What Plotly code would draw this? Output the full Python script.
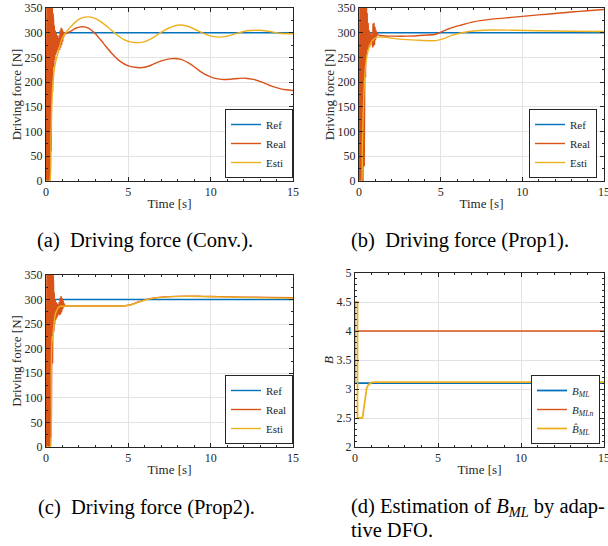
import plotly.graph_objects as go

# ---------------- data ----------------
ref_t = [0, 15]
ref_v = [300, 300]

# (a) Conv.
a_osc_t = [0, .02, .04, .06, .08, .10, .12, .14, .16, .18, .20, .22, .24, .26, .28, .30, .32, .34, .36, .38, .40,
           .42, .44, .46, .48, .50, .53, .56, .59, .62, .65, .68, .71, .74, .77, .80, .83, .86, .89, .92, .95, .98,
           1.01, 1.04, 1.07, 1.10, 1.15]
a_osc_v = [0, 280, 10, 370, 0, 370, 0, 370, 0, 370, 0, 370, 0, 370, 20, 370, 60, 370, 120, 360, 180,
           340, 210, 325, 230, 315, 245, 305, 255, 300, 260, 295, 265, 290, 270, 295, 265, 305, 270, 310, 275, 308,
           282, 303, 290, 300, 297]
a_real_t = [1.15, 1.5, 1.8, 2.2, 2.6, 3.0, 3.5, 4.0, 4.5, 5.0, 5.5, 6.0, 6.5, 7.0, 7.6, 8.2, 8.7, 9.2, 9.7,
            10.2, 10.7, 11.2, 11.7, 12.1, 12.6, 13.2, 13.7, 14.2, 14.6, 15.0]
a_real_v = [297, 303, 309, 312, 309, 298, 278, 258, 242, 233, 229.5, 230, 236, 243, 247.5, 246, 238, 226, 215,
            208, 205.5, 206, 207.5, 208, 205.5, 199, 192, 187, 184.5, 183]
a_esti_t = [0, 0.22, 0.3, 0.35, 0.4, 0.5, 0.6, 0.7, 0.8, 0.9, 1.0, 1.2, 1.5, 1.8, 2.1, 2.5, 2.9, 3.3, 3.8, 4.3,
            4.8, 5.2, 5.6, 6.0, 6.5, 7.0, 7.5, 8.1, 8.6, 9.1, 9.6, 10.1, 10.5, 11.0, 11.6, 12.2, 12.9, 13.5,
            14.2, 15.0]
a_esti_v = [0, 0, 90, 150, 190, 225, 243, 256, 268, 281, 290, 300, 312, 322, 329, 332, 330, 323, 310, 296,
            285, 281, 280, 282, 290, 301, 310, 315.5, 313, 306, 298, 292.5, 291, 293, 299, 304, 305, 303,
            299, 298]

# (b) Prop1
b_osc_t = [0, .02, .04, .06, .08, .10, .12, .14, .16, .18, .20, .22, .24, .26, .28, .30, .32, .34, .36, .38, .40,
           .42, .44, .46, .48, .50, .53, .56, .59, .62, .65, .68, .71, .74, .77, .80, .83, .86, .89, .92, .95, .98,
           1.01, 1.04, 1.07, 1.10, 1.15, 1.2]
b_osc_v = [0, 300, 0, 370, 0, 370, 0, 370, 0, 370, 0, 370, 0, 370, 0, 370, 30, 370, 150, 370, 210,
           365, 240, 355, 255, 340, 265, 320, 268, 305, 270, 300, 275, 296, 280, 300, 270, 318, 272, 320, 275, 312,
           285, 305, 292, 300, 296, 295]
b_real_t = [1.2, 1.6, 2.0, 3.0, 4.0, 4.7, 5.0, 5.5, 6.2, 7.0, 8.0, 9.0, 10.0, 11.0, 12.0, 13.0, 14.0, 15.0]
b_real_v = [295, 293.5, 293, 293, 295, 297, 301, 308, 315, 322, 327, 330, 333, 336, 339, 342, 344.5, 347]
b_esti_t = [0, 0.15, 0.2, 0.25, 0.3, 0.35, 0.4, 0.47, 0.55, 0.65, 0.75, 0.88, 1.0, 1.2, 1.5, 2.0, 2.5, 3.5,
            4.7, 5.2, 5.7, 6.3, 7.2, 8.2, 9.5, 11.0, 13.0, 15.0]
b_esti_v = [0, 0, 60, 130, 180, 210, 232, 250, 263, 274, 281, 286, 289, 291, 291, 289, 287, 285,
            284, 288, 295, 300, 304, 305.5, 305, 304, 303, 302.5]

# (c) Prop2
c_osc_t = [0, .02, .04, .06, .08, .10, .12, .14, .16, .18, .20, .22, .24, .26, .28, .30, .32, .34, .36, .38, .40,
           .42, .44, .46, .48, .50, .53, .56, .59, .62, .65, .68, .71, .74, .77, .80, .83, .86, .89, .92, .95, .98,
           1.01, 1.04, 1.07, 1.10, 1.15, 1.2]
c_osc_v = [0, 280, 0, 370, 0, 370, 0, 370, 0, 370, 0, 370, 0, 370, 0, 370, 20, 370, 90, 370, 170,
           360, 210, 330, 235, 315, 250, 300, 258, 295, 262, 292, 266, 290, 270, 295, 268, 304, 270, 307, 274, 303,
           280, 298, 284, 292, 287, 287]
c_real_t = [1.2, 2.0, 3.0, 4.0, 4.8, 5.2, 5.6, 6.0, 6.5, 7.0, 7.8, 8.5, 9.5, 10.5, 12.0, 13.5, 15.0]
c_real_v = [287, 287, 287, 287, 287.5, 290, 295, 299.5, 303, 305, 306.5, 307, 306.5, 306, 305, 304.5, 304]
c_esti_t = [0, 0.2, 0.27, 0.32, 0.36, 0.4, 0.44, 0.5, 0.55, 0.65, 0.75, 0.9, 1.2, 2.0, 3.0, 4.0, 4.8, 5.2,
            5.6, 6.0, 6.5, 7.0, 7.8, 8.5, 9.5, 10.5, 12.0, 13.5, 15.0]
c_esti_v = [0, 0, 0, 150, 225, 215, 235, 255, 268, 278, 284, 286.5, 287, 287, 287, 287, 287.5, 289.5,
            294.5, 299, 302.5, 304.5, 306, 306.5, 306, 305.5, 304.5, 303.5, 303]

# (d) B_ML estimation
bml_t = [0, 15]
bml_v = [3.1, 3.1]
bmln_t = [0, 15]
bmln_v = [4.0, 4.0]
bhat_t = [0, 0, 0.15, 0.15, 0.45, 0.5, 0.55, 0.6, 0.65, 0.7, 0.8, 0.9, 1.0, 1.2, 15]
bhat_v = [3.1, 4.5, 4.5, 2.5, 2.5, 2.6, 2.75, 2.87, 2.95, 3.01, 3.07, 3.10, 3.115, 3.12, 3.12]

# ---------------- style ----------------
BLUE = '#0072BD'
RED = '#D95319'
YEL = '#EDB120'
AXC = '#262626'
GRID = '#e3e3e3'
SERIF = 'Liberation Serif'
LW = 1.4

W, H = 608, 546


def px(x):
    return x / W


def py(y):
    return 1 - y / H


fig = go.Figure()

panels = [
    ('x', 'y', 'legend', a_osc_t, a_osc_v, a_real_t, a_real_v, a_esti_t, a_esti_v),
    ('x2', 'y2', 'legend2', b_osc_t, b_osc_v, b_real_t, b_real_v, b_esti_t, b_esti_v),
    ('x3', 'y3', 'legend3', c_osc_t, c_osc_v, c_real_t, c_real_v, c_esti_t, c_esti_v),
]
for xa, ya, lg, ot, ov, rt, rv, et, ev in panels:
    fig.add_trace(go.Scatter(x=ref_t, y=ref_v, mode='lines', name='Ref', line=dict(color=BLUE, width=LW),
                             xaxis=xa, yaxis=ya, legend=lg))
    fig.add_trace(go.Scatter(x=ot, y=ov, mode='lines', showlegend=False, line=dict(color=RED, width=LW),
                             xaxis=xa, yaxis=ya, legend=lg))
    fig.add_trace(go.Scatter(x=rt, y=rv, mode='lines', name='Real',
                             line=dict(color=RED, width=LW, shape='spline', smoothing=0.8),
                             xaxis=xa, yaxis=ya, legend=lg))
    fig.add_trace(go.Scatter(x=et, y=ev, mode='lines', name='Esti',
                             line=dict(color=YEL, width=LW, shape='spline', smoothing=0.6),
                             xaxis=xa, yaxis=ya, legend=lg))

fig.add_trace(go.Scatter(x=bml_t, y=bml_v, mode='lines', name='<i>B</i><sub><i>ML</i></sub>',
                         line=dict(color=BLUE, width=1.8), xaxis='x4', yaxis='y4', legend='legend4'))
fig.add_trace(go.Scatter(x=bmln_t, y=bmln_v, mode='lines', name='<i>B</i><sub><i>MLn</i></sub>',
                         line=dict(color=RED, width=LW), xaxis='x4', yaxis='y4', legend='legend4'))
fig.add_trace(go.Scatter(x=bhat_t, y=bhat_v, mode='lines', name='<i>B\u0302</i><sub><i>ML</i></sub>',
                         line=dict(color=YEL, width=1.8), xaxis='x4', yaxis='y4', legend='legend4'))

tickfont = dict(family=SERIF, size=12, color=AXC)
titlefont = dict(family=SERIF, size=13, color=AXC)


def xaxis(dom, anchor):
    return dict(domain=dom, anchor=anchor, range=[0, 15], dtick=5, tick0=0,
                ticks='inside', ticklen=4, tickcolor=AXC, tickwidth=0.8,
                showline=True, linecolor=AXC, linewidth=1, mirror='ticks',
                showgrid=True, gridcolor=GRID, gridwidth=1, zeroline=False,
                automargin=False, ticklabeloverflow='allow',
                minor=dict(dtick=1, ticks='inside', ticklen=2, tickcolor=AXC, showgrid=False),
                tickfont=tickfont, title=dict(text='Time [s]', font=titlefont, standoff=0))


def yaxis(dom, anchor, rng, dt, mdt, title):
    return dict(domain=dom, anchor=anchor, range=rng, dtick=dt, tick0=rng[0],
                ticks='inside', ticklen=4, tickcolor=AXC, tickwidth=0.8,
                showline=True, linecolor=AXC, linewidth=1, mirror='ticks',
                showgrid=True, gridcolor=GRID, gridwidth=1, zeroline=False,
                automargin=False, ticklabeloverflow='allow',
                minor=dict(dtick=mdt, ticks='inside', ticklen=2, tickcolor=AXC, showgrid=False),
                tickfont=tickfont, title=dict(text=title, font=titlefont, standoff=0))


xa_ab = [px(46), px(293)]
xb = [px(359), px(604)]
xd = [px(355), px(604)]
y_ab = [py(181), py(8)]
y_c = [py(447), py(275)]
y_d = [py(447), py(273)]

legfont = dict(family=SERIF, size=11, color=AXC)


def legend(xr, yb):
    return dict(x=xr, y=yb, xanchor='right', yanchor='bottom', bgcolor='white',
                bordercolor=AXC, borderwidth=1, font=legfont, itemwidth=30,
                tracegroupgap=0, traceorder='normal', xref='paper', yref='paper')


fig.update_layout(
    width=W, height=H, margin=dict(l=0, r=0, t=0, b=0, autoexpand=False),
    paper_bgcolor='white', plot_bgcolor='white',
    font=dict(family=SERIF, color=AXC),
    xaxis=xaxis(xa_ab, 'y'), yaxis=yaxis(y_ab, 'x', [0, 350], 50, 25, 'Driving force [N]'),
    xaxis2=xaxis(xb, 'y2'), yaxis2=yaxis(y_ab, 'x2', [0, 350], 50, 25, 'Driving force [N]'),
    xaxis3=xaxis(xa_ab, 'y3'), yaxis3=yaxis(y_c, 'x3', [0, 350], 50, 25, 'Driving force [N]'),
    xaxis4=xaxis(xd, 'y4'), yaxis4=yaxis(y_d, 'x4', [2, 5], 0.5, 0.1, '<i>B</i>'),
    legend=legend(px(293), py(178)),
    legend2=legend(px(597), py(178)),
    legend3=legend(px(293), py(444)),
    legend4=legend(px(600), py(444)),
)

capfont = dict(family=SERIF, size=20.5, color='black')
captions = [
    ('(a)  Driving force (Conv.).', 35, 240),
    ('(b)  Driving force (Prop1).', 349, 240),
    ('(c)  Driving force (Prop2).', 36, 507),
    ('(d) Estimation of <i>B</i><sub><i>ML</i></sub> by adap-', 349, 507),
    ('tive DFO.', 349, 530),
]
for txt, x0, y0 in captions:
    fig.add_annotation(text=txt, x=px(x0), y=py(y0), xref='paper', yref='paper', xanchor='left',
                       yanchor='middle', showarrow=False, font=capfont)

fig.write_html('out.html', config={'displayModeBar': False},
               post_script="document.body.style.margin='0px';document.body.style.padding='0px';")
